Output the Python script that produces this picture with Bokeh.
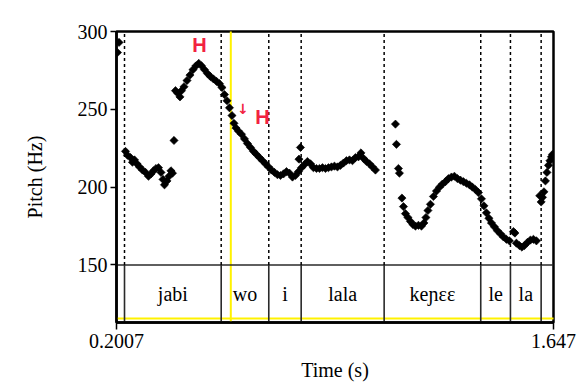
from bokeh.plotting import figure
from bokeh.models import Range1d, FixedTicker, Label, BoxAnnotation
from bokeh.embed import file_html
from bokeh.resources import INLINE
from bokeh.core.properties import value

# ---------------- data ----------------
T_START, T_END = 0.2007, 1.647
F_MIN, F_MAX = 150, 300
TIER_BOTTOM = 113.06

pitch_time = [
    0.2040, 0.2090,
    0.2305, 0.2371, 0.2470, 0.2536, 0.2603, 0.2685, 0.2768, 0.2867, 0.2967, 0.3066,
    0.3149, 0.3231, 0.3314, 0.3397, 0.3480, 0.3546, 0.3595, 0.3678, 0.3744, 0.3810, 0.3860,
    0.3910,
    0.3959, 0.4026, 0.4108, 0.4158, 0.4241, 0.4340, 0.4439, 0.4538, 0.4638, 0.4730,
    0.4820, 0.4919, 0.5018, 0.5118, 0.5217, 0.5316, 0.5415, 0.5498, 0.5581, 0.5664,
    0.5746, 0.5829, 0.5895, 0.5961, 0.6044, 0.6143, 0.6243, 0.6342, 0.6441, 0.6540,
    0.6640, 0.6739, 0.6838, 0.6937, 0.7037, 0.7136, 0.7235, 0.7334, 0.7434, 0.7533,
    0.7632, 0.7731, 0.7831, 0.7930, 0.8029, 0.8046, 0.8095, 0.8129, 0.8228, 0.8327,
    0.8427, 0.8526, 0.8625, 0.8724, 0.8824, 0.8923, 0.9022, 0.9121, 0.9220, 0.9320,
    0.9419, 0.9518, 0.9617, 0.9717, 0.9816, 0.9915, 1.0015, 1.0097, 1.0180, 1.0279,
    1.0379, 1.0478, 1.0577,
    1.1239, 1.1272, 1.1338, 1.1371, 1.1454, 1.1504, 1.1570, 1.1653, 1.1736, 1.1818,
    1.1901, 1.2000, 1.2100, 1.2182, 1.2248, 1.2314, 1.2397, 1.2496, 1.2596, 1.2695,
    1.2794, 1.2893, 1.2993, 1.3092, 1.3191, 1.3291, 1.3390, 1.3489, 1.3588, 1.3688,
    1.3787, 1.3886, 1.3986, 1.4085, 1.4168, 1.4250, 1.4333, 1.4416, 1.4515, 1.4614,
    1.4714, 1.4813, 1.4912, 1.5011, 1.5144, 1.5193, 1.5243, 1.5342, 1.5425, 1.5508,
    1.5607, 1.5706, 1.5806, 1.5905,
    1.6014, 1.6061, 1.6104, 1.6154, 1.6203, 1.6253, 1.6303, 1.6352, 1.6402, 1.6435,
]
pitch_hz = [
    286.5, 293.0,
    223.0, 220.5, 219.0, 216.0, 217.5, 215.0, 213.0, 211.0, 209.5, 207.0,
    208.5, 210.5, 212.0, 212.5, 209.5, 205.0, 201.5, 204.0, 207.0, 210.5, 209.0,
    230.0,
    262.0, 260.5, 258.0, 262.0, 264.5, 268.5, 272.0, 275.5, 278.0, 279.5,
    278.0, 275.5, 273.0, 271.0, 269.5, 268.0, 266.5, 264.0, 259.5, 255.5,
    251.0, 246.0, 241.0, 238.0, 236.0, 234.0, 231.0, 228.0, 225.5, 223.0,
    221.0, 219.0, 217.0, 215.0, 213.0, 211.0, 209.5, 208.0, 207.5, 208.5,
    210.0, 209.0, 206.5, 207.5, 210.0, 218.0, 225.5, 212.5, 214.5, 216.5,
    215.0, 212.5, 212.0, 212.0, 212.5, 212.0, 212.5, 213.0, 213.5, 213.0,
    214.0, 215.5, 217.0, 217.5, 217.0, 219.0, 219.5, 222.0, 218.5, 216.5,
    215.0, 213.0, 211.0,
    240.5, 227.5, 212.0, 209.0, 193.0, 187.5, 183.0, 180.5, 178.0, 176.0,
    175.0, 175.5, 175.0, 177.0, 180.5, 185.0, 189.0, 194.0, 197.5, 200.0,
    202.0, 203.5, 205.5, 206.5, 207.0, 205.5, 204.5, 203.5, 202.5, 201.5,
    200.0, 198.5, 196.5, 192.5, 188.0, 183.5, 180.0, 177.0, 174.5, 172.0,
    170.0, 168.0, 166.5, 165.5, 171.5, 170.5, 164.0, 162.5, 161.5, 162.5,
    164.5, 166.0, 166.5, 165.5,
    194.5, 190.5, 193.5, 197.0, 204.0, 209.5, 214.0, 217.0, 219.5, 221.0,
]

boundaries = [0.2272, 0.5472, 0.7047, 0.8119, 1.0865, 1.4062, 1.5045, 1.6061]
syllables = ["jabi", "wo", "i", "lala", "keɲɛɛ", "le", "la"]

y_ticks = [150, 200, 250, 300]
x_ticks = [0.2007, 1.647]
x_tick_labels = ["0.2007", "1.647"]

SERIF = "Liberation Serif"
RED = "#f2223f"
YELLOW = "#fff200"

W, H = 586, 389

# ---------------- figure ----------------
p = figure(width=W, height=H,
           x_range=Range1d(T_START, T_END), y_range=Range1d(TIER_BOTTOM, F_MAX),
           output_backend="svg", toolbar_location=None,
           min_border_left=116, min_border_right=33,
           min_border_top=31, min_border_bottom=67)
p.grid.visible = False
p.background_fill_color = "white"
p.border_fill_color = "white"
p.outline_line_color = "black"
p.outline_line_width = 2.5

# yellow guide lines (canvas coordinates)
p.add_layout(BoxAnnotation(left=229.3, right=231.3, top=6, bottom=H,
                           left_units="canvas", right_units="canvas",
                           top_units="canvas", bottom_units="canvas",
                           fill_color=YELLOW, fill_alpha=1.0, line_color=None,
                           level="underlay"))
p.add_layout(BoxAnnotation(left=8, right=W, top=317.0, bottom=319.0,
                           left_units="canvas", right_units="canvas",
                           top_units="canvas", bottom_units="canvas",
                           fill_color=YELLOW, fill_alpha=1.0, line_color=None,
                           level="underlay"))

# axes
for ax in (p.xaxis[0], p.yaxis[0]):
    ax.axis_line_width = 2.5
    ax.axis_line_color = "black"
    ax.major_tick_line_width = 1.5
    ax.major_tick_in = 0
    ax.minor_tick_line_color = None
    ax.major_label_text_font = SERIF
    ax.major_label_text_font_size = "20px"
    ax.major_label_text_color = "black"
    ax.axis_label_text_font = SERIF
    ax.axis_label_text_font_size = "20px"
    ax.axis_label_text_font_style = "normal"
    ax.axis_label_text_color = "black"

p.xaxis.ticker = FixedTicker(ticks=x_ticks)
p.xaxis.major_label_overrides = dict(zip(x_ticks, x_tick_labels))
p.xaxis.major_tick_out = 7
p.xaxis.major_label_standoff = 4
p.xaxis.axis_label = "Time (s)"
p.xaxis.axis_label_standoff = 8

p.yaxis.ticker = FixedTicker(ticks=y_ticks)
p.yaxis.major_tick_out = 6
p.yaxis.major_label_standoff = 3
p.yaxis.axis_label = "Pitch (Hz)"
p.yaxis.axis_label_standoff = 29

# tier: horizontal separator at bottom of pitch area
p.segment(x0=[T_START], y0=[F_MIN], x1=[T_END], y1=[F_MIN], line_color="#2a2a2a", line_width=1.6)
# dashed boundaries in pitch area
p.segment(x0=boundaries, y0=[F_MIN] * len(boundaries), x1=boundaries, y1=[F_MAX] * len(boundaries),
          line_color="black", line_width=1.5, line_dash="3 3")
# solid boundaries in tier
p.segment(x0=boundaries, y0=[TIER_BOTTOM] * len(boundaries), x1=boundaries, y1=[F_MIN] * len(boundaries),
          line_color="#2a2a2a", line_width=1.6)

# tier labels
centers = [(a + b) / 2 for a, b in zip(boundaries[:-1], boundaries[1:])]
p.text(x=centers, y=[(F_MIN + TIER_BOTTOM) / 2] * len(centers), text=syllables,
       text_align="center", text_baseline="middle",
       text_font=value(SERIF), text_font_size="20px", text_color="black")

# pitch speckles
p.scatter(x=pitch_time, y=pitch_hz, marker="square", angle=0.785, size=5.8,
          fill_color="black", line_color="black", line_width=0.6)

# tone labels
p.add_layout(Label(x=0.4754, y=291.6, text="H", text_align="center", text_baseline="middle",
                   text_color=RED, text_font="Liberation Sans", text_font_style="bold",
                   text_font_size="20px"))
p.add_layout(Label(x=0.6193, y=250.0, text="↓", text_align="center", text_baseline="middle",
                   text_color=RED, text_font="DejaVu Sans", text_font_style="bold",
                   text_font_size="14px"))
p.add_layout(Label(x=0.6838, y=244.8, text="H", text_align="center", text_baseline="middle",
                   text_color=RED, text_font="Liberation Sans", text_font_style="bold",
                   text_font_size="20px"))

open("out.html", "w").write(file_html(p, INLINE))
